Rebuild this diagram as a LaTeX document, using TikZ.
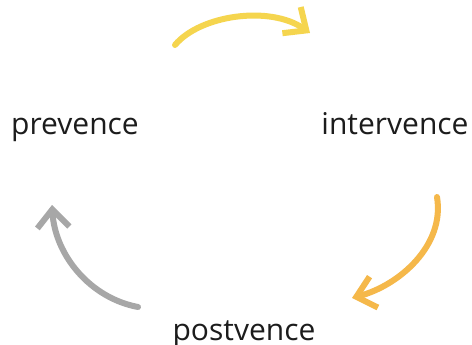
\documentclass[tikz,border=0pt]{standalone}
\usepackage{fontspec}
\setmainfont{Open Sans}
\usetikzlibrary{arrows.meta}
\tikzset{>={Straight Barb[length=18pt,width=32pt]}}
\definecolor{penyellow}{HTML}{F5D54E}
\definecolor{penorange}{HTML}{F5B84A}
\definecolor{pengray}{HTML}{A7A7A7}
\definecolor{inkblack}{HTML}{1C1C1C}
\tikzset{
  phase/.style={inner sep=0pt, anchor=base, text=inkblack, font=\fontsize{30}{36}\selectfont},
  stroke/.style={line width=6pt, line cap=round, line join=round, ->}
}

\begin{document}
\begin{tikzpicture}[x=1pt,y=1pt]
\useasboundingbox[fill=white] (0,0) rectangle (472,-345);

% phases
\node[phase] (prev)  at ( 75,-135) {prevence};
\node[phase] (inter) at (395,-135) {intervence};
\node[phase] (post)  at (244,-340) {postvence};

% arrow ends
\coordinate (ya) at (175,-45);
\coordinate (yb) at (310,-33);
\coordinate (oa) at (437,-197);
\coordinate (ob) at (352,-298);
\coordinate (ga) at (138,-307);
\coordinate (gb) at ( 52,-205);

\draw[stroke, color=penyellow] (ya) .. controls (200,-15) and (270,-5) .. (yb);
\draw[stroke, color=penorange] (oa) .. controls (445,-245) and (400,-285) .. (ob);
\draw[stroke, color=pengray]   (ga) .. controls (90,-298) and (55,-255) .. (gb);
\end{tikzpicture}
\end{document}
